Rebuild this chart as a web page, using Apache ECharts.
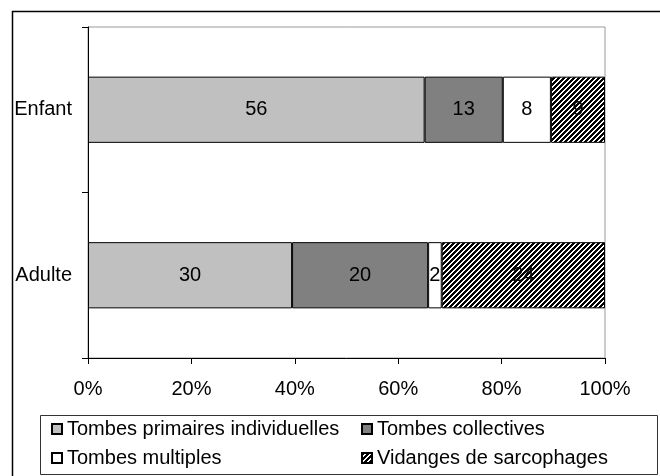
<!DOCTYPE html>
<html>
<head>
<meta charset="utf-8">
<script src="https://cdn.jsdelivr.net/npm/echarts@6/dist/echarts.min.js"></script>
<style>
html,body{margin:0;padding:0;background:#fff;}
#chart{width:660px;height:476px;}
</style>
</head>
<body>
<div id="chart"></div>
<script>
// Data (bottom-to-top category order)
var categories = ['Adulte', 'Enfant'];
var seriesNames = ['Tombes primaires individuelles', 'Tombes collectives', 'Tombes multiples', 'Vidanges de sarcophages'];
var primaires = [30, 56];
var collectives = [20, 13];
var multiples = [2, 8];
var vidanges = [24, 9];
var xTicks = [0, 20, 40, 60, 80, 100];

var FONT = 'Liberation Sans, Arial, Helvetica, sans-serif';

// hatch pattern tile ("/" stripes)
function makeHatch() {
  var n = 5;
  var c = document.createElement('canvas');
  c.width = n; c.height = n;
  var ctx = c.getContext('2d');
  ctx.fillStyle = '#fff';
  ctx.fillRect(0, 0, n, n);
  ctx.fillStyle = '#000';
  for (var x = 0; x < n; x++) {
    for (var y = 0; y < n; y++) {
      if ((x + y) % n < 3) ctx.fillRect(x, y, 1, 1);
    }
  }
  return c;
}
var hatch = makeHatch();

var raw = [primaires, collectives, multiples, vidanges];
var totals = categories.map(function (_, i) {
  return raw.reduce(function (s, arr) { return s + arr[i]; }, 0);
});
function pct(arr) {
  return arr.map(function (v, i) { return v / totals[i] * 100; });
}

var colors = ['#c0c0c0', '#808080', '#ffffff', { image: hatch, repeat: 'repeat' }];

var series = raw.map(function (arr, k) {
  return {
    name: seriesNames[k],
    type: 'bar',
    stack: 'total',
    barCategoryGap: '60%',
    data: pct(arr),
    itemStyle: { color: colors[k], borderColor: '#000', borderWidth: 1 },
    label: {
      show: true,
      position: 'inside',
      color: '#000',
      fontSize: 20,
      fontFamily: FONT,
      formatter: function (p) { return String(arr[p.dataIndex]); }
    },
    emphasis: { disabled: true },
    animation: false
  };
});

var legendCommon = {
  orient: 'vertical', top: 419, padding: 0,
  itemWidth: 10, itemHeight: 10, itemGap: 9, icon: 'rect',
  textStyle: { fontSize: 20, fontFamily: FONT, color: '#000', lineHeight: 20 },
  selectedMode: false
};

var chart = echarts.init(document.getElementById('chart'), null, { renderer: 'canvas' });
chart.setOption({
  animation: false,
  backgroundColor: '#fff',
  grid: {
    left: 88, top: 27, width: 517, height: 331,
    show: true, borderColor: '#999', borderWidth: 1, backgroundColor: 'transparent'
  },
  xAxis: {
    type: 'value',
    min: xTicks[0], max: xTicks[xTicks.length - 1], interval: 20,
    splitLine: { show: false },
    axisLine: { show: true, lineStyle: { color: '#000', width: 1 } },
    axisTick: { show: true, length: 6, lineStyle: { color: '#000' } },
    axisLabel: { formatter: '{value}%', fontSize: 20, fontFamily: FONT, color: '#000', margin: 21 }
  },
  yAxis: {
    type: 'category',
    data: categories,
    axisLine: { show: true, lineStyle: { color: '#000', width: 1 } },
    axisTick: { show: true, length: 6, lineStyle: { color: '#000' } },
    axisLabel: { fontSize: 20, fontFamily: FONT, color: '#000', margin: 16 }
  },
  legend: [
    Object.assign({}, legendCommon, { data: [seriesNames[0], seriesNames[2]], left: 51 }),
    Object.assign({}, legendCommon, { data: [seriesNames[1], seriesNames[3]], left: 361 })
  ],
  graphic: [
    { type: 'rect', shape: { x: 12.5, y: 11.5, width: 700, height: 500 }, style: { fill: 'none', stroke: '#000', lineWidth: 1.5 }, silent: true, z: 100 },
    { type: 'rect', shape: { x: 40.5, y: 415.5, width: 617, height: 59 }, style: { fill: 'none', stroke: '#333', lineWidth: 1 }, silent: true, z: 100 }
  ],
  series: series
});
</script>
</body>
</html>
